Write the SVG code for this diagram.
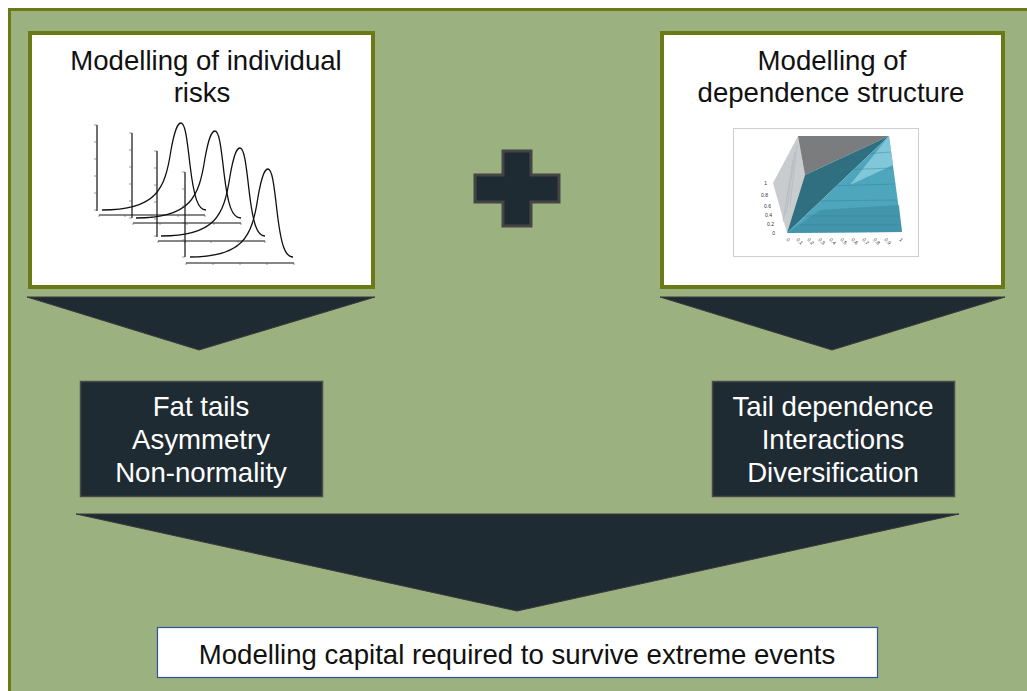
<svg xmlns="http://www.w3.org/2000/svg" width="1027" height="691" viewBox="0 0 1027 691">
<defs>
<style>
.title{font-family:"Liberation Sans",Arial,sans-serif;font-size:27.6px;fill:#111;text-anchor:middle}
.wt{font-family:"Liberation Sans",Arial,sans-serif;font-size:27.6px;fill:#fff;text-anchor:middle}
.bt{font-family:"Liberation Sans",Arial,sans-serif;font-size:27.6px;fill:#111;text-anchor:middle}
.card{fill:#fff;stroke:#6B7A17;stroke-width:4}
.dark{fill:#1F2B33;stroke:#4a4a4a;stroke-width:1.5}
.arrow{fill:#1F2B33;stroke:#3a3a3a;stroke-width:1}
.ax{stroke:#111;stroke-width:1.2;fill:none}
.tick{stroke:#555;stroke-width:0.6}
.cv{stroke:#111;stroke-width:1.3;fill:none}
.tk{font-family:"Liberation Sans",Arial,sans-serif;font-size:5px;fill:#333}
.grid{stroke:#2d7f95;stroke-width:0.6;opacity:0.7}
</style>
</defs>
<rect x="0" y="0" width="1027" height="691" fill="#fff"/>
<rect x="9.5" y="9.5" width="1030" height="700" fill="#9BB280" stroke="#6B7A17" stroke-width="3"/>

<g id="connectors">
<polygon class="arrow" points="27,297 375,297 199,350"/>
<polygon class="arrow" points="660,297 1005,297 832,350"/>
<polygon class="arrow" points="76,514 959,514 517,611"/>
</g>

<g id="node-individual">
<rect class="card" x="30" y="33" width="343" height="254"/>
<text class="title" x="206" y="70">Modelling of individual</text>
<text class="title" x="202" y="102">risks</text>
<g id="density-plots">
<!-- plot 1 -->
<line class="ax" x1="97" y1="125" x2="97" y2="211"/>
<line class="ax" x1="99" y1="215" x2="205" y2="215"/>
<path class="tick" d="M94,125h3M94,142h3M94,159h3M94,176h3M94,193h3M94,210h3M99,215v2M125,215v2M152,215v2M178,215v2M205,215v2"/>
<path class="cv" d="M102,210 C156,210 165,190 171,150 C175,128 178,123 181,123 C185,123 187,138 190,165 C194,198 198,210 206,210"/>
<!-- plot 2 -->
<line class="ax" x1="132" y1="133" x2="132" y2="218"/>
<line class="ax" x1="133" y1="223" x2="241" y2="223"/>
<path class="tick" d="M129,133h3M129,150h3M129,167h3M129,184h3M129,201h3M129,218h3M133,223v2M160,223v2M187,223v2M214,223v2M241,223v2"/>
<path class="cv" d="M136,218 C190,218 199,198 205,158 C209,136 212,131 215,131 C219,131 221,146 224,173 C228,206 232,218 241,218"/>
<!-- plot 3 -->
<line class="ax" x1="157" y1="151" x2="157" y2="237"/>
<line class="ax" x1="158" y1="241" x2="265" y2="241"/>
<path class="tick" d="M154,151h3M154,168h3M154,185h3M154,202h3M154,219h3M154,236h3M158,241v2M185,241v2M211,241v2M238,241v2M265,241v2"/>
<path class="cv" d="M161,236 C215,236 224,216 230,176 C234,153 237,148 240,148 C244,148 246,163 249,190 C253,224 257,236 265,236"/>
<!-- plot 4 -->
<line class="ax" x1="185" y1="172" x2="185" y2="257"/>
<line class="ax" x1="186" y1="263" x2="294" y2="263"/>
<path class="tick" d="M182,172h3M182,189h3M182,206h3M182,223h3M182,240h3M182,257h3M186,263v2M213,263v2M240,263v2M267,263v2M294,263v2"/>
<path class="cv" d="M190,257 C243,257 252,237 258,197 C262,174 265,169 268,169 C272,169 274,184 277,211 C281,245 285,257 293,257"/>
</g>
</g>

<g id="node-dependence">
<rect class="card" x="662" y="33" width="341" height="254"/>
<text class="title" x="832" y="70">Modelling of</text>
<text class="title" x="831" y="102">dependence structure</text>
<g id="surface-chart">
<rect x="733.5" y="128.5" width="185" height="128" fill="#fff" stroke="#cfcfcf" stroke-width="1"/>
<polygon points="798,136 773,183 787,233 805,175" fill="#c9cccf"/>
<path d="M797,145 L790,205 M795,152 L786,214 M793,160 L783,222" stroke="#a9adb0" stroke-width="0.5"/>
<polygon points="798,136 889,136 805,175" fill="#7a7c7d"/>
<polygon points="805,175 889,136 787,233" fill="#2f6f7f"/>
<polygon points="889,136 902,232 787,233" fill="#4ea6bd"/>
<polygon points="889,136 893,165 850,185" fill="#8fcfe0" opacity="0.8"/>
<polygon points="787,233 902,232 899,205 820,210" fill="#3d8ea3" opacity="0.7"/>
<line class="grid" x1="850" y1="155" x2="891" y2="152"/>
<line class="grid" x1="838" y1="170" x2="893" y2="168"/>
<line class="grid" x1="825" y1="186" x2="895" y2="184"/>
<line class="grid" x1="812" y1="201" x2="897" y2="200"/>
<line class="grid" x1="800" y1="216" x2="900" y2="216"/>
<line class="grid" x1="800" y1="225" x2="901" y2="225"/>
<text class="tk" x="767" y="185" text-anchor="end">1</text>
<text class="tk" x="768" y="197" text-anchor="end">0.8</text>
<text class="tk" x="771" y="208" text-anchor="end">0.6</text>
<text class="tk" x="772" y="217" text-anchor="end">0.4</text>
<text class="tk" x="774" y="226" text-anchor="end">0.2</text>
<text class="tk" x="775" y="235" text-anchor="end">0</text>
<text class="tk" transform="translate(786,240) rotate(45)">0</text>
<text class="tk" transform="translate(796,240) rotate(45)">0.1</text>
<text class="tk" transform="translate(807,240) rotate(45)">0.2</text>
<text class="tk" transform="translate(818,240) rotate(45)">0.3</text>
<text class="tk" transform="translate(829,240) rotate(45)">0.4</text>
<text class="tk" transform="translate(840,240) rotate(45)">0.5</text>
<text class="tk" transform="translate(851,240) rotate(45)">0.6</text>
<text class="tk" transform="translate(862,240) rotate(45)">0.7</text>
<text class="tk" transform="translate(873,240) rotate(45)">0.8</text>
<text class="tk" transform="translate(884,240) rotate(45)">0.9</text>
<text class="tk" transform="translate(899,240) rotate(45)">1</text>
</g>
</g>

<g id="node-plus">
<path d="M503,151 H531 V175 H559 V202 H531 V226 H503 V202 H475 V175 H503 Z" fill="#1F2B33" stroke="#454545" stroke-width="3"/>
</g>

<g id="node-fat-tails">
<rect class="dark" x="80.5" y="381.5" width="242" height="115"/>
<text class="wt" x="201" y="416">Fat tails</text>
<text class="wt" x="201" y="449">Asymmetry</text>
<text class="wt" x="201" y="482">Non-normality</text>
</g>

<g id="node-tail-dependence">
<rect class="dark" x="712.5" y="381.5" width="242" height="115"/>
<text class="wt" x="833" y="416">Tail dependence</text>
<text class="wt" x="833" y="449">Interactions</text>
<text class="wt" x="833" y="482">Diversification</text>
</g>

<g id="node-capital">
<rect x="157.5" y="627.5" width="720" height="50" fill="#fff" stroke="#2F5597" stroke-width="1.2"/>
<text class="bt" x="517" y="664">Modelling capital required to survive extreme events</text>
</g>
</svg>
